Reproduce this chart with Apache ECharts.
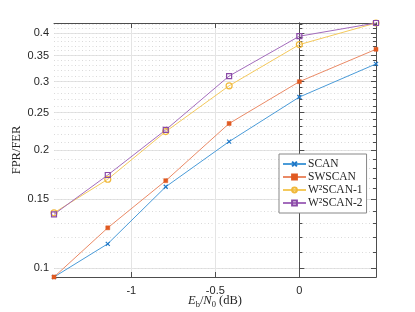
<!DOCTYPE html>
<html><head><meta charset="utf-8">
<script src="https://cdn.jsdelivr.net/npm/echarts@6/dist/echarts.min.js"></script>
<style>html,body{margin:0;padding:0;background:#fff}#c{width:415px;height:312px}</style>
</head><body><div id="c"></div>
<script>
const xValues = [-1.46, -1.14, -0.795, -0.418, 0, 0.456];
const scan    = [0.0948, 0.1153, 0.1614, 0.2107, 0.274, 0.3331];
const swscan  = [0.0948, 0.1267, 0.1673, 0.2344, 0.300, 0.3631];
const w2scan1 = [0.1384, 0.1687, 0.2235, 0.2928, 0.3733, 0.424];
const w2scan2 = [0.1372, 0.1730, 0.2258, 0.3101, 0.3922, 0.424];
const xTicks = [-1, -0.5, 0];
const xTickLabels = ['-1', '-0.5', '0'];
const yTicks = [0.1, 0.15, 0.2, 0.25, 0.3, 0.35, 0.4];
const yTickLabels = ['0.1', '0.15', '0.2', '0.25', '0.3', '0.35', '0.4'];
const yMinorTicks = [];
for (let k = 10; k <= 42; k++) yMinorTicks.push(k / 100);

const allY = scan.concat(swscan, w2scan1, w2scan2);
const yMin = Math.log10(Math.min.apply(null, allY));
const yMax = Math.log10(Math.max.apply(null, allY));
const xMin = xValues[0], xMax = xValues[xValues.length - 1];
const L = v => Math.log10(v);

const axisCol = '#4d4d4d';
const labelStyle = {color: '#262626', fontSize: 11, fontFamily: 'Liberation Sans'};
const chart = echarts.init(document.getElementById('c'), null, {renderer: 'canvas'});

function yAx(pos, ticks, len, showLabel, split, splitType) {
  return {
    type: 'value', position: pos, min: yMin, max: yMax,
    axisLine: {show: true, lineStyle: {color: axisCol, width: 1}},
    axisTick: {show: true, inside: true, length: len, customValues: ticks.map(L), lineStyle: {color: axisCol}},
    axisLabel: showLabel ? Object.assign({show: true, customValues: yTicks.map(L), margin: 5,
      formatter: v => { const i = yTicks.findIndex(t => Math.abs(L(t) - v) < 1e-6); return i >= 0 ? yTickLabels[i] : ''; }}, labelStyle) : {show: false},
    splitLine: split ? {show: true, lineStyle: {color: splitType === 'dotted' ? '#dadada' : '#e4e4e4', type: splitType === 'dotted' ? [1, 2.5] : 'solid', width: 1}} : {show: false},
    name: showLabel ? 'FPR/FER' : '', nameLocation: 'middle', nameGap: 31, nameMoveOverlap: false,
    nameTextStyle: {fontFamily: 'Liberation Serif', fontSize: 12.5, color: '#262626'}
  };
}

chart.setOption({
  animation: false,
  grid: {left: 54, right: 39, top: 23, bottom: 35, containLabel: false, outerBoundsMode: 'none'},
  xAxis: [
    {type: 'value', position: 'bottom', min: xMin, max: xMax,
      axisLine: {show: true, onZero: false, lineStyle: {color: axisCol}},
      axisTick: {show: true, inside: true, length: 5, customValues: xTicks, lineStyle: {color: axisCol}},
      axisLabel: Object.assign({show: true, customValues: xTicks, margin: 8,
        formatter: v => { const i = xTicks.findIndex(t => Math.abs(t - v) < 1e-6); return i >= 0 ? xTickLabels[i] : ''; }}, labelStyle),
      splitLine: {show: true, lineStyle: {color: '#e4e4e4', width: 1}},
      name: '{i|E}{s|b}{n|/}{i|N}{s|0}{n| (dB)}', nameLocation: 'middle', nameGap: 16, nameMoveOverlap: false,
      nameTextStyle: {rich: {
        i: {fontFamily: 'Liberation Serif', fontStyle: 'italic', fontSize: 12.5, color: '#262626'},
        n: {fontFamily: 'Liberation Serif', fontSize: 12.5, color: '#262626'},
        s: {fontFamily: 'Liberation Serif', fontSize: 8.5, color: '#262626', padding: [7, 0, 0, 0]}
      }}},
    {type: 'value', position: 'top', min: xMin, max: xMax,
      axisLine: {show: true, onZero: false, lineStyle: {color: axisCol}},
      axisTick: {show: true, inside: true, length: 5, customValues: xTicks, lineStyle: {color: axisCol}},
      axisLabel: {show: false}, splitLine: {show: false}}
  ],
  yAxis: [
    yAx('left', yTicks, 5, true, true, 'solid'),
    yAx('left', yMinorTicks, 3, false, true, 'dotted'),
    yAx('right', yTicks, 5, false, false),
    yAx('right', yMinorTicks, 3, false, false)
  ],
  legend: {
    show: true, orient: 'vertical', left: 279, top: 154,
    padding: [4, 4, 4, 3], itemGap: 1, itemWidth: 23, itemHeight: 6,
    backgroundColor: '#fff', borderColor: '#888', borderWidth: 1,
    textStyle: {fontFamily: 'Liberation Serif', fontSize: 11.5, color: '#262626', padding: [0, 0, 0, -3]},
    data: ['SCAN', 'SWSCAN', 'W²SCAN-1', 'W²SCAN-2']
  },
  series: [
    {name: 'SCAN', type: 'line', xAxisIndex: 0, yAxisIndex: 0,
      data: xValues.map((x, i) => [x, L(scan[i])]),
      symbol: 'path://M0,0L10,10M10,0L0,10', symbolSize: 4, showAllSymbol: true,
      lineStyle: {color: '#4a9bd8', width: 1},
      itemStyle: {color: 'none', borderColor: '#1f78c8', borderWidth: 1.2}},
    {name: 'SWSCAN', type: 'line', xAxisIndex: 0, yAxisIndex: 0,
      data: xValues.map((x, i) => [x, L(swscan[i])]),
      symbol: 'rect', symbolSize: 4, showAllSymbol: true,
      lineStyle: {color: '#ea8a66', width: 1},
      itemStyle: {color: '#e05a22', borderColor: '#e05a22', borderWidth: 0.5}},
    {name: 'W²SCAN-1', type: 'line', xAxisIndex: 0, yAxisIndex: 0,
      data: xValues.map((x, i) => [x, L(w2scan1[i])]),
      symbol: 'circle', symbolSize: 6, showAllSymbol: true,
      lineStyle: {color: '#f4c95c', width: 1},
      itemStyle: {color: 'none', borderColor: '#f0b83a', borderWidth: 1.2}},
    {name: 'W²SCAN-2', type: 'line', xAxisIndex: 0, yAxisIndex: 0,
      data: xValues.map((x, i) => [x, L(w2scan2[i])]),
      symbol: 'rect', symbolSize: 5, showAllSymbol: true,
      lineStyle: {color: '#a36cbc', width: 1},
      itemStyle: {color: 'none', borderColor: '#8a4aa6', borderWidth: 1.2}}
  ]
});
</script></body></html>
